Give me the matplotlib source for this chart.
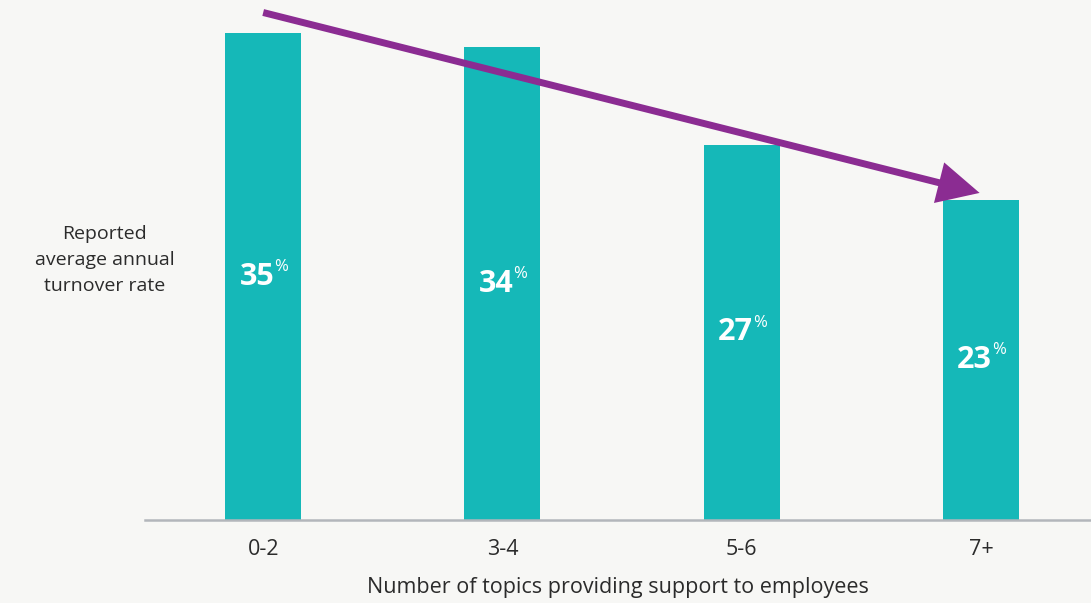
import matplotlib.pyplot as plt

plt.rcParams['font.family'] = ['Open Sans', 'DejaVu Sans']

categories = ['0-2', '3-4', '5-6', '7+']
turnover = [35, 34, 27, 23]

bg = '#f7f7f5'
bar_color = '#15b8b8'
arrow_color = '#8b2c92'
text_color = '#2b2b2b'

fig = plt.figure(figsize=(10.91, 6.03), dpi=100, facecolor=bg)
ax = fig.add_axes([145 / 1091, 83 / 603, 946 / 1091, 520 / 603])
ax.set_facecolor(bg)

x = range(len(categories))
ax.bar(x, turnover, width=0.318, color=bar_color, zorder=2)

# value labels: bold number with a small raised percent sign
for xi, v in zip(x, turnover):
    ax.annotate(str(v), xy=(xi, v / 2), xytext=(8, 0), textcoords='offset points',
                ha='right', va='center', fontsize=22, fontweight='bold', color='white')
    ax.annotate('%', xy=(xi, v / 2), xytext=(8, 7), textcoords='offset points',
                ha='left', va='center', fontsize=12, color='white')

# downward trend arrow across the bar tops
ax.annotate('', xy=(len(turnover) - 1, turnover[-1] + 0.5), xytext=(0, turnover[0] + 1.5),
            arrowprops=dict(arrowstyle='-|>,head_length=1.1,head_width=0.55',
                            mutation_scale=20, color=arrow_color, lw=5,
                            joinstyle='miter', capstyle='butt',
                            shrinkA=0, shrinkB=1), zorder=3)

ax.set_xlim(-0.494, 3.46)
ax.set_ylim(0, 37.4)
for side in ['top', 'right', 'left']:
    ax.spines[side].set_visible(False)
ax.spines['bottom'].set_color('#b3b6bb')
ax.spines['bottom'].set_linewidth(1.8)
ax.set_yticks([])
ax.set_xticks(list(x))
ax.set_xticklabels(categories, fontsize=15.5, color=text_color)
ax.tick_params(axis='x', length=0, pad=14)
ax.set_xlabel('Number of topics providing support to employees', fontsize=15.5,
              color=text_color, labelpad=12)

fig.text(105 / 1091, 1 - 260 / 603, 'Reported\naverage annual\nturnover rate',
         ha='center', va='center', fontsize=14, color=text_color, linespacing=1.6)

fig.savefig('out.png', dpi=100, facecolor=bg)
